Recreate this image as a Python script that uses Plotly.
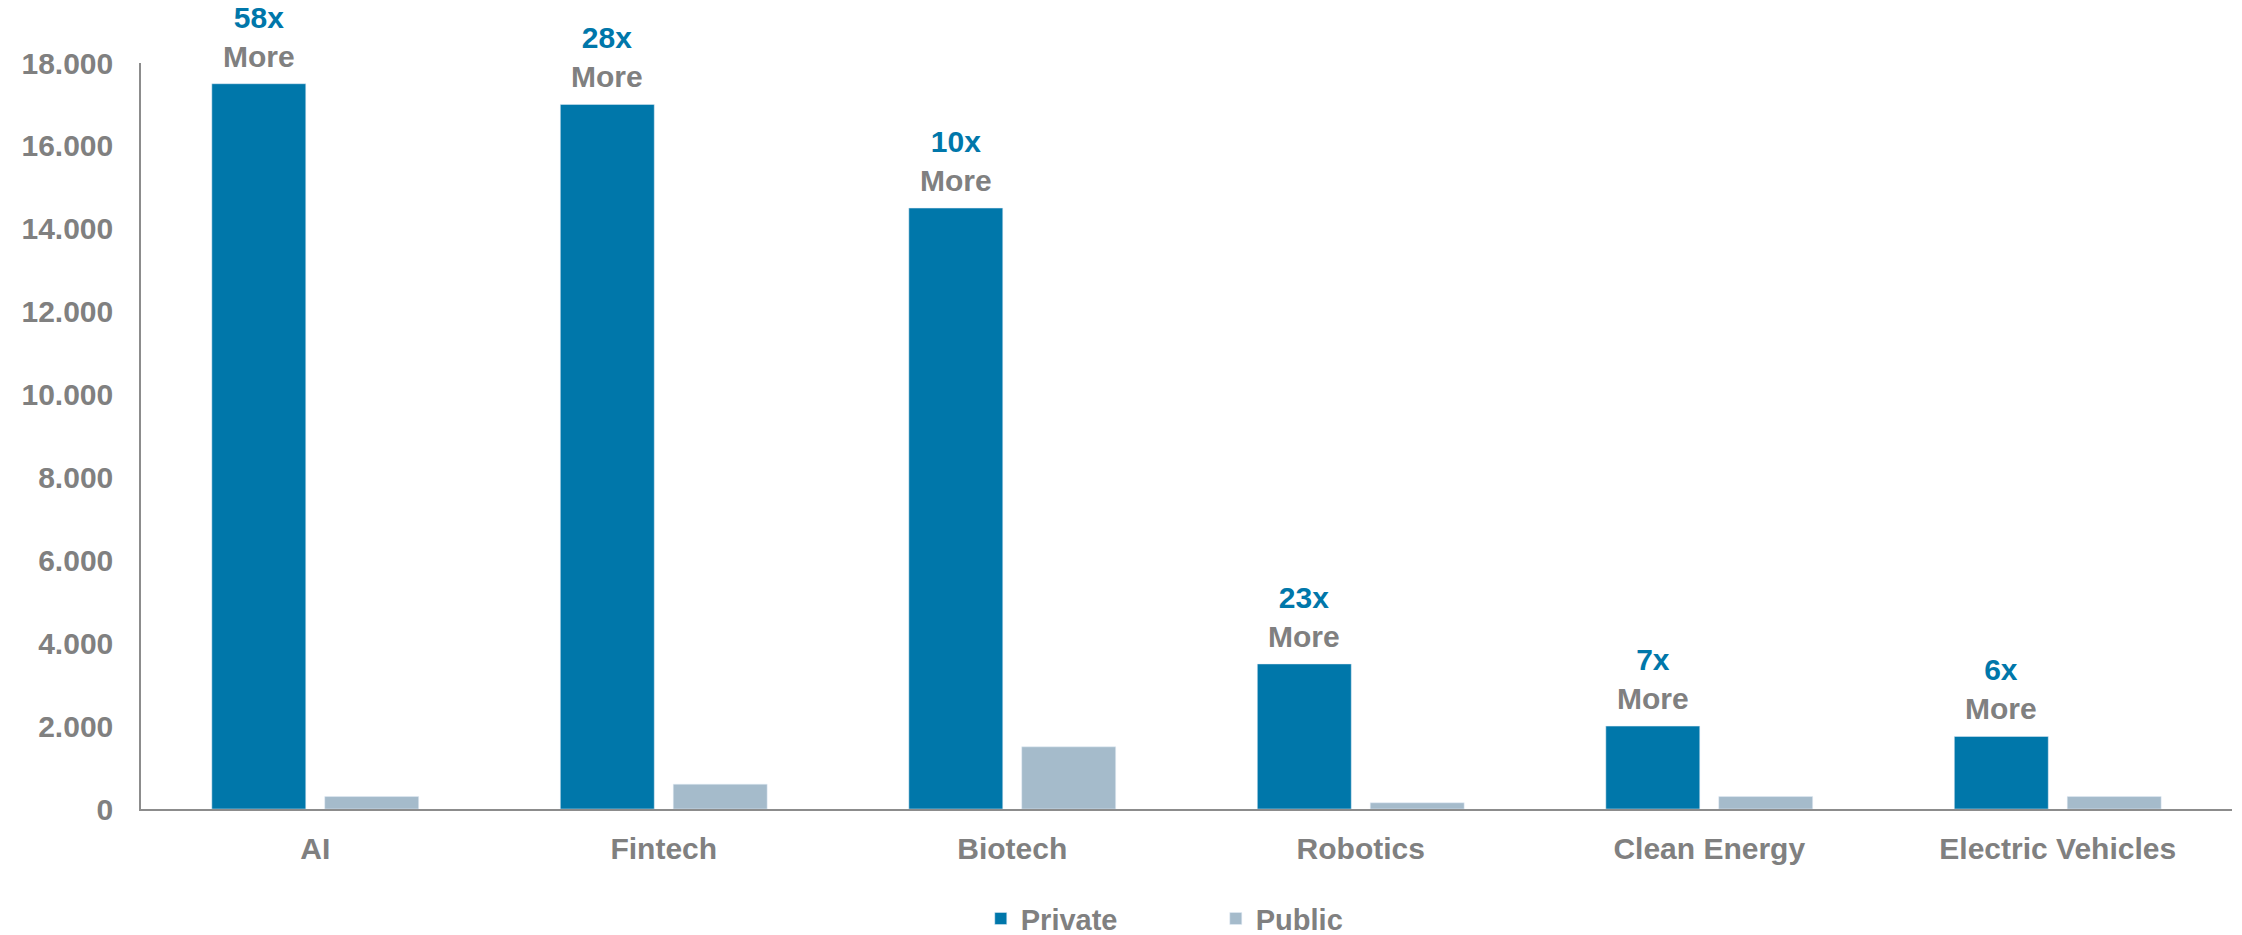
import plotly.graph_objects as go

categories = ["AI", "Fintech", "Biotech", "Robotics", "Clean Energy", "Electric Vehicles"]
private_vals = [17500, 17000, 14500, 3500, 2000, 1750]
public_vals = [300, 600, 1500, 150, 300, 300]
multipliers = ["58x", "28x", "10x", "23x", "7x", "6x"]
y_ticks = [0, 2000, 4000, 6000, 8000, 10000, 12000, 14000, 16000, 18000]

BLUE = "#0077AA"
LIGHT = "#A5BBCB"
GRAY = "#808080"
FONT = "Liberation Sans"

fig = go.Figure()
fig.add_trace(go.Bar(
    x=categories, y=private_vals, name="Private", marker_color=BLUE,
    hoverinfo="skip",
))
fig.add_trace(go.Bar(
    x=categories, y=public_vals, name="Public", marker_color=LIGHT,
    hoverinfo="skip",
))

for cat, val, m in zip(categories, private_vals, multipliers):
    fig.add_annotation(
        x=cat, y=val, xref="x", yref="y",
        text=f"<span style='color:{BLUE}'>{m}</span><br>More",
        showarrow=False, xanchor="center", yanchor="bottom",
        xshift=-56.5, yshift=9,
        font=dict(family=FONT, size=30, color=GRAY, weight="bold"),
    )

fig.update_layout(
    width=2242, height=935,
    margin=dict(l=141, r=10, t=63, b=126, autoexpand=False),
    paper_bgcolor="white", plot_bgcolor="white",
    barmode="group", bargap=0.352, bargroupgap=0.168,
    separators=",.",
    font=dict(family=FONT, size=30, color=GRAY, weight="bold"),
    showlegend=True,
    legend=dict(orientation="h", x=0.514, xanchor="center", y=-0.147, yanchor="middle",
                font=dict(family=FONT, size=29, color=GRAY, weight="bold"),
                entrywidth=190, traceorder="normal"),
    xaxis=dict(showline=True, linecolor="#8C8C8C", linewidth=1.5, ticks="",
               showgrid=False, zeroline=False,
               tickfont=dict(family=FONT, size=30, color=GRAY, weight="bold"),
               ticklabelstandoff=12),
    yaxis=dict(range=[0, 18000], tickvals=y_ticks, tickformat=",d",
               showline=True, linecolor="#8C8C8C", linewidth=1.5, ticks="",
               showgrid=False, zeroline=False,
               tickfont=dict(family=FONT, size=30, color=GRAY, weight="bold"),
               ticklabelstandoff=20),
)

fig.write_html("out.html")
